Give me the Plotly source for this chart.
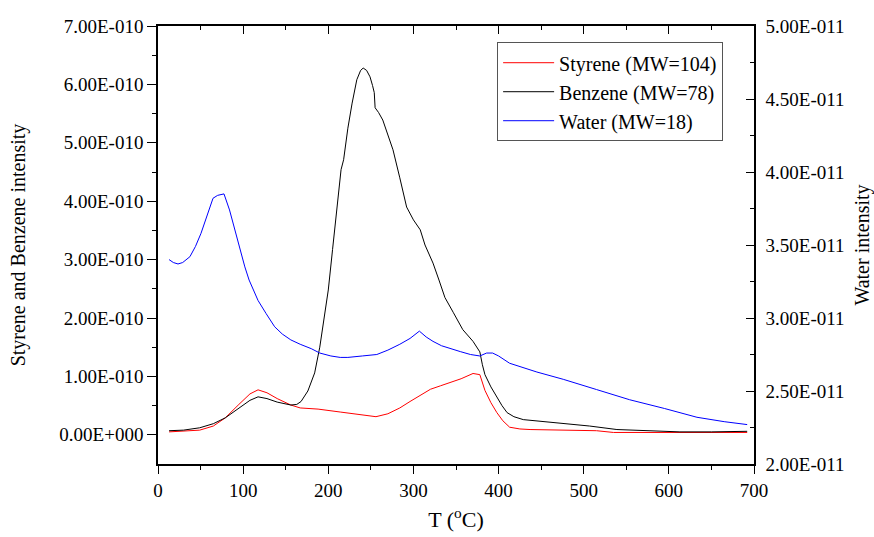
import plotly.graph_objects as go

# ---- data ----
T_styrene = [13, 30, 49, 65, 79, 95, 108, 117.5, 128, 140, 156, 167, 188, 214, 235, 256, 270, 284,
             296, 308, 320, 332, 343, 356, 370, 378, 384, 391, 398, 405, 413, 425, 437, 470, 515,
             535, 600, 650, 692]
styrene = [0.05, 0.06, 0.08, 0.15, 0.29, 0.52, 0.70, 0.77, 0.72, 0.62, 0.51, 0.46, 0.44, 0.39,
           0.35, 0.31, 0.36, 0.46, 0.57, 0.68, 0.78, 0.84, 0.89, 0.96, 1.05, 1.03, 0.76, 0.55,
           0.38, 0.24, 0.13, 0.10, 0.09, 0.08, 0.07, 0.04, 0.04, 0.04, 0.04]

T_benzene = [13, 30, 49, 65, 79, 95, 108, 117.5, 128, 140, 156, 163, 168, 176, 184, 190, 196, 200,
             205, 210, 215, 218, 223, 228, 233.5, 238, 241, 245, 249, 252, 254, 255, 259, 264,
             270, 276, 284, 292, 300, 308, 313.6, 323, 330, 337, 347, 358, 370, 378, 381, 384,
             391, 398, 404, 410, 418, 429, 450, 476, 507, 539, 570, 613, 650, 692]
benzene = [0.07, 0.08, 0.12, 0.19, 0.29, 0.45, 0.59, 0.65, 0.62, 0.56, 0.51, 0.52, 0.57, 0.75,
           1.06, 1.50, 2.09, 2.48, 3.17, 3.90, 4.54, 4.71, 5.25, 5.68, 6.08, 6.24, 6.28, 6.24,
           6.13, 5.98, 5.86, 5.60, 5.52, 5.39, 5.15, 4.88, 4.40, 3.90, 3.68, 3.51, 3.25, 2.94,
           2.65, 2.35, 2.09, 1.80, 1.60, 1.42, 1.20, 1.03, 0.82, 0.65, 0.50, 0.38, 0.31, 0.26,
           0.23, 0.19, 0.15, 0.09, 0.07, 0.05, 0.05, 0.06]

T_water = [13, 18, 23.5, 29, 37.5, 44, 50.5, 58, 64.6, 70, 77.5, 84, 90.5, 96, 102, 107, 112.7,
           117.5, 127, 137, 146, 156, 167, 180, 190, 203, 214, 223, 240, 257, 270, 284, 296,
           307, 315, 323, 333, 343, 355, 367, 378, 386, 393, 400, 413, 445, 476, 515, 554, 595,
           633, 665, 692]
water = [3.40, 3.38, 3.37, 3.38, 3.42, 3.49, 3.58, 3.70, 3.82, 3.84, 3.85, 3.74, 3.60, 3.47, 3.35,
         3.26, 3.19, 3.12, 3.03, 2.94, 2.89, 2.85, 2.82, 2.79, 2.76, 2.74, 2.73, 2.73, 2.74, 2.75,
         2.78, 2.82, 2.86, 2.91, 2.87, 2.84, 2.81, 2.79, 2.77, 2.75, 2.74, 2.76, 2.76, 2.74, 2.69,
         2.63, 2.58, 2.51, 2.44, 2.38, 2.32, 2.29, 2.27]

left_tickvals = [0, 1e-10, 2e-10, 3e-10, 4e-10, 5e-10, 6e-10, 7e-10]
left_ticktext = ["0.00E+000", "1.00E-010", "2.00E-010", "3.00E-010", "4.00E-010",
                 "5.00E-010", "6.00E-010", "7.00E-010"]
right_tickvals = [2e-11, 2.5e-11, 3e-11, 3.5e-11, 4e-11, 4.5e-11, 5e-11]
right_ticktext = ["2.00E-011", "2.50E-011", "3.00E-011", "3.50E-011", "4.00E-011",
                  "4.50E-011", "5.00E-011"]
x_tickvals = [0, 100, 200, 300, 400, 500, 600, 700]
x_minor = [50, 150, 250, 350, 450, 550, 650]

FONT = "Liberation Serif, Times New Roman, serif"

fig = go.Figure()
fig.add_trace(go.Scatter(x=T_styrene, y=[v * 1e-10 for v in styrene], mode="lines",
                         name="Styrene (MW=104)", line=dict(color="#ff0000", width=1)))
fig.add_trace(go.Scatter(x=T_benzene, y=[v * 1e-10 for v in benzene], mode="lines",
                         name="Benzene (MW=78)", line=dict(color="#000000", width=1)))
fig.add_trace(go.Scatter(x=T_water, y=[v * 1e-11 for v in water], mode="lines",
                         name="Water (MW=18)", line=dict(color="#0000ff", width=1), yaxis="y2"))
# helper trace for the top mirrored axis
fig.add_trace(go.Scatter(x=[None], y=[None], xaxis="x2", showlegend=False, hoverinfo="skip"))

axis_common = dict(showgrid=False, zeroline=False, showline=True, linecolor="black", linewidth=1.6,
                   tickcolor="black", tickwidth=1.4, automargin=False,
                   tickfont=dict(family=FONT, size=19, color="black"))

fig.update_layout(
    width=874, height=537,
    margin=dict(l=158, r=120, t=26, b=73),
    paper_bgcolor="white", plot_bgcolor="white",
    font=dict(family=FONT, size=19, color="black"),
    xaxis=dict(range=[0, 700], tickmode="array", tickvals=x_tickvals,
               ticks="outside", ticklen=8,
               minor=dict(tickvals=x_minor, ticks="outside", ticklen=4,
                          tickcolor="black", tickwidth=1.4),
               title=dict(text="T (<sup>o</sup>C)", font=dict(family=FONT, size=22), standoff=12),
               **axis_common),
    xaxis2=dict(range=[0, 700], overlaying="x", side="top", tickmode="array",
                tickvals=x_tickvals, ticks="inside", ticklen=8,
                minor=dict(tickvals=x_minor, ticks="inside", ticklen=4,
                           tickcolor="black", tickwidth=1.4),
                showticklabels=False, **axis_common),
    yaxis=dict(range=[-0.5e-10, 7e-10], tickmode="array", tickvals=left_tickvals,
               ticktext=left_ticktext, ticks="outside", ticklen=9,
               minor=dict(tickvals=[0.5e-10, 1.5e-10, 2.5e-10, 3.5e-10, 4.5e-10, 5.5e-10, 6.5e-10],
                          ticks="outside", ticklen=4, tickcolor="black", tickwidth=1.4),
               title=dict(text="Styrene and Benzene intensity", font=dict(family=FONT, size=20),
                          standoff=28),
               **axis_common),
    yaxis2=dict(range=[2e-11, 5e-11], overlaying="y", side="right", tickmode="array",
                tickvals=right_tickvals, ticktext=right_ticktext, ticks="inside", ticklen=8,
                minor=dict(tickvals=[2.25e-11, 2.75e-11, 3.25e-11, 3.75e-11, 4.25e-11, 4.75e-11],
                           ticks="inside", ticklen=4, tickcolor="black", tickwidth=1.4),
                ticklabelstandoff=6,
                title=dict(text="Water intensity", font=dict(family=FONT, size=20), standoff=11),
                **axis_common),
    legend=dict(x=0.569, y=0.963, xanchor="left", yanchor="top", bgcolor="white",
                bordercolor="#555555", borderwidth=1,
                font=dict(family=FONT, size=20, color="black"), itemwidth=51,
                tracegroupgap=0),
    showlegend=True,
)

fig.write_html("out.html")
